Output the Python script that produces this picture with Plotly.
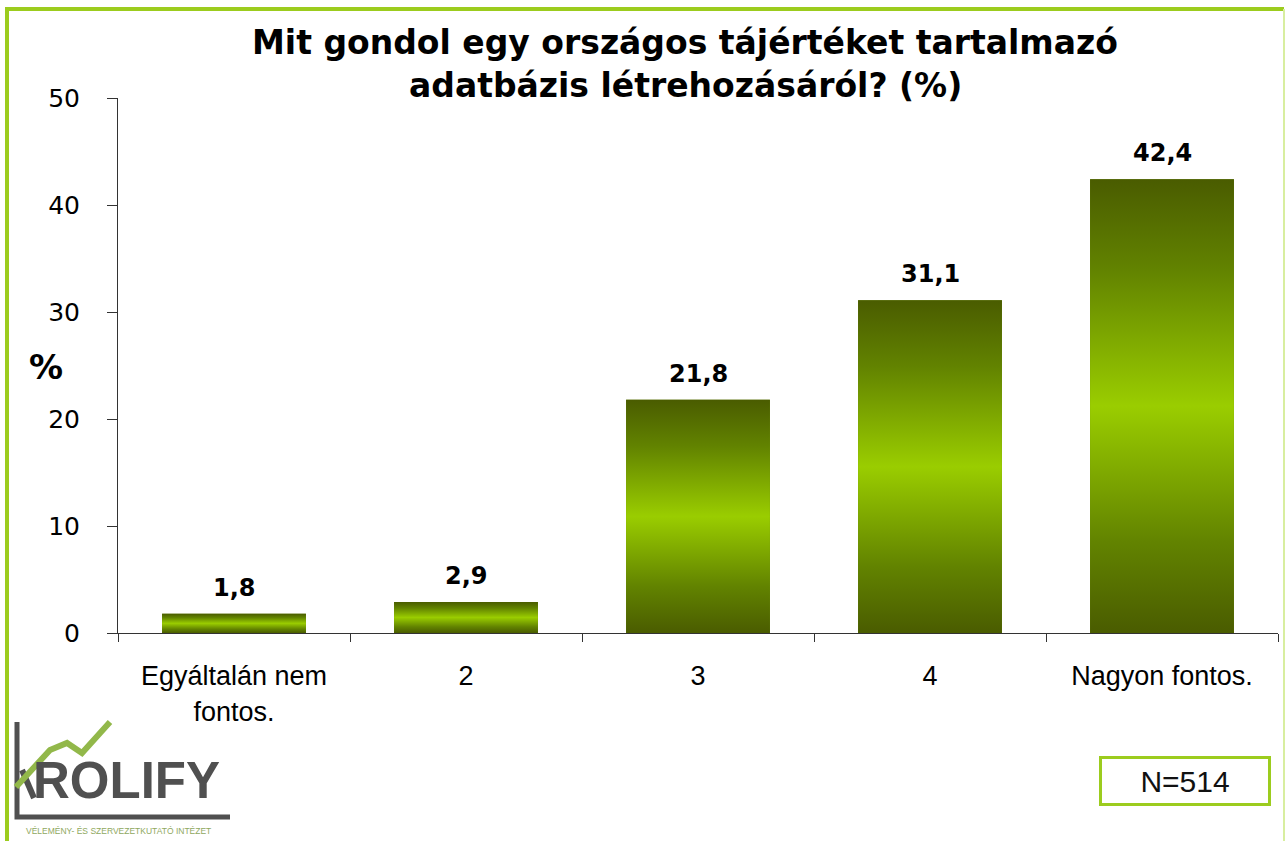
import plotly.graph_objects as go

categories = ["Egyáltalán nem<br>fontos.", "2", "3", "4", "Nagyon fontos."]
values = [1.8, 2.9, 21.8, 31.1, 42.4]
y_ticks = [0, 10, 20, 30, 40, 50]
title_lines = ["Mit gondol egy országos tájértéket tartalmazó", "adatbázis létrehozásáról? (%)"]
n_text = "N=514"

W, H = 1287, 841
L, R, T, B = 118, 1278, 98, 633
BAR_W = 0.62
grad = [[0, "#4a5c00"], [0.2, "#628300"], [0.5, "#9acd00"], [0.8, "#628300"], [1, "#4a5c00"]]


def px(X, Y):
    return (X - L) / (R - L), (B - Y) / (B - T)


fig = go.Figure()
xs = list(range(len(values)))
fig.add_trace(go.Bar(x=xs, y=values, width=BAR_W, marker=dict(color="#5f7f00", line=dict(width=0)),
                     hoverinfo="skip", showlegend=False))
for i, v in zip(xs, values):
    fig.add_trace(go.Scatter(
        x=[i - BAR_W / 2, i + BAR_W / 2, i + BAR_W / 2, i - BAR_W / 2, i - BAR_W / 2],
        y=[0, 0, v, v, 0], mode="lines", fill="toself", line=dict(width=0),
        fillgradient=dict(type="vertical", colorscale=grad),
        hoverinfo="skip", showlegend=False))

annotations = []
for i, v in zip(xs, values):
    annotations.append(dict(x=i, y=v, xref="x", yref="y", text=f"{v:.1f}".replace(".", ","),
                            showarrow=False, xanchor="center", yanchor="bottom", yshift=10,
                            font=dict(family="DejaVu Sans", size=24, color="#000", weight="bold")))


def ann(X, Y, text, font, **kw):
    a, b = px(X, Y)
    d = dict(x=a, y=b, xref="paper", yref="paper", text=text, showarrow=False,
             xanchor="center", yanchor="middle", font=font)
    d.update(kw)
    annotations.append(d)


# title
ann(685, 42, title_lines[0], dict(family="DejaVu Sans", size=33, color="#000", weight="bold"))
ann(685, 86, title_lines[1], dict(family="DejaVu Sans", size=33, color="#000", weight="bold"))
# y axis title
ann(46, 367, "%", dict(family="DejaVu Sans", size=34, color="#000", weight="bold"))
# N box
ann(1185, 781, n_text, dict(family="Liberation Sans, Arial", size=30, color="#111"),
    bordercolor="#9ccc1e", borderwidth=3, bgcolor="white", width=164, height=42)
# logo texts
ann(126, 780, "ROLIFY", dict(family="Liberation Sans, Arial", size=51, color="#505050", weight="bold"))
ann(118, 831, "VÉLEMÉNY- ÉS SZERVEZETKUTATÓ INTÉZET",
    dict(family="Liberation Sans, Arial", size=8.5, color="#8fa860"))

shapes = []
# frame
for (x0, y0, x1, y1, c, w) in [(7, 9, 7, 860, "#9ccc1e", 4), (5, 9, 1284, 9, "#9ccc1e", 4),
                               (1284, 9, 1284, 860, "#d8eea0", 2)]:
    a0, b0 = px(x0, y0)
    a1, b1 = px(x1, y1)
    shapes.append(dict(type="line", xref="paper", yref="paper", x0=a0, y0=b0, x1=a1, y1=b1,
                       line=dict(color=c, width=w)))
# logo lines
for pts, c, w in [([(17, 722), (17, 817), (230, 817)], "#505050", 5),
                  ([(22, 770), (34, 798)], "#505050", 6),
                  ([(16, 787), (50, 750), (67, 743), (82, 753), (110, 722)], "#92b84a", 6)]:
    path = ""
    for k, (X, Y) in enumerate(pts):
        a, b = px(X, Y)
        path += ("M" if k == 0 else "L") + f"{a},{b} "
    shapes.append(dict(type="path", xref="paper", yref="paper", path=path,
                       line=dict(color=c, width=w)))

fig.update_layout(
    width=W, height=H,
    margin=dict(l=L, r=W - R, t=T, b=H - B, pad=0),
    paper_bgcolor="white", plot_bgcolor="white",
    xaxis=dict(range=[-0.5, len(values) - 0.5], tickmode="array", tickvals=xs, ticktext=categories,
               ticks="", showline=True, linecolor="#333", linewidth=1, showgrid=False, zeroline=False,
               tickfont=dict(family="Liberation Sans, Arial", size=27, color="#000"),
               ticklabelstandoff=19,
               minor=dict(tickmode="array", tickvals=[i + 0.5 for i in range(-1, len(values))],
                          ticks="outside", ticklen=8, tickcolor="#333", tickwidth=1, showgrid=False)),
    yaxis=dict(range=[0, 50], tickmode="array", tickvals=y_ticks, ticks="outside", ticklen=10,
               tickcolor="#333", showline=True, linecolor="#333", linewidth=1, showgrid=False,
               zeroline=False, tickfont=dict(family="DejaVu Sans", size=25, color="#000"),
               ticklabelstandoff=22),
    annotations=annotations, shapes=shapes, bargap=0.38,
)
fig.write_html("out.html", config={"displayModeBar": False},
               post_script="document.body.style.margin='0';document.body.style.overflow='hidden';")
